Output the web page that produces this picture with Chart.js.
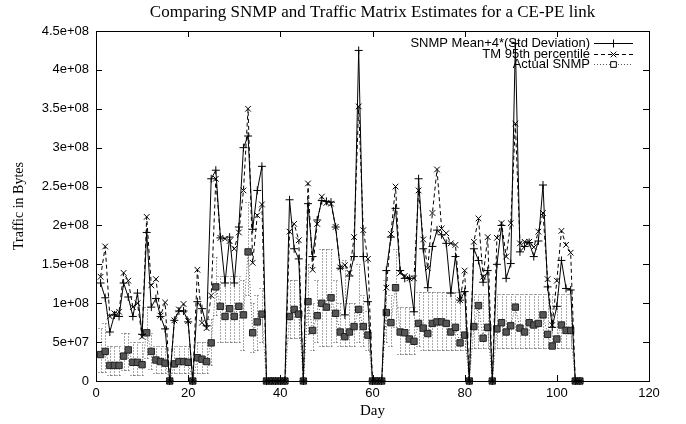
<!DOCTYPE html>
<html><head><meta charset="utf-8">
<script src="https://cdn.jsdelivr.net/npm/chart.js@4.4.1/dist/chart.umd.min.js"></script>
<style>html,body{margin:0;padding:0;background:#fff}#wrap{width:686px;height:424px}</style>
</head><body><div id="wrap"><canvas id="c" width="686" height="424"></canvas></div>
<script>
// Day numbers (x categories)
const days = [1,2,3,4,5,6,7,8,9,10,11,12,13,14,15,16,17,18,19,20,21,22,23,24,25,26,27,28,29,30,
  31,32,33,34,35,36,37,38,39,40,41,42,43,44,45,46,47,48,49,50,51,52,53,54,55,56,57,58,59,60,
  61,62,63,64,65,66,67,68,69,70,71,72,73,74,75,76,77,78,79,80,81,82,83,84,85,86,87,88,89,90,
  91,92,93,94,95,96,97,98,99,100,101,102,103,104,105];
// Values in millions of bytes
const snmpMeanStd = [126,107,63,85,83,126,108,83,113,60,191,95,106,83,67,0,78,90,90,76,
  0,102,93,71,260,271,184,126,185,126,198,300,315,195,245,276,0,0,0,0,
  0,233,170,157,0,228,160,207,232,231,230,198,145,85,135,160,425,160,102,0,
  0,0,142,185,222,142,132,132,89,260,170,120,173,194,188,177,113,160,104,115,
  0,170,155,127,142,0,150,200,132,151,434,166,173,178,160,180,252,121,69,96,
  155,119,117,0,0];
const tm95 = [134,173,83,87,89,139,129,95,100,57,211,123,131,84,101,0,78,92,99,77,
  0,143,75,68,110,260,184,183,180,170,191,245,350,152,213,227,0,0,0,0,
  0,192,202,181,0,254,143,202,237,229,228,198,146,149,139,185,353,194,157,0,
  0,0,120,189,250,139,135,132,132,245,182,145,216,272,196,190,177,175,104,142,
  0,179,209,134,185,0,184,203,160,203,331,177,179,179,172,192,216,131,72,129,
  193,175,165,0,0];
const actualSnmp = [34,38,20,20,20,32,40,24,24,21,62,38,27,25,23,0,22,25,25,24,
  0,30,28,25,49,121,96,83,93,83,96,85,166,62,76,86,0,0,0,0,
  0,83,92,86,0,102,65,84,100,95,107,87,63,57,63,70,92,70,59,0,
  0,0,88,75,120,63,62,54,51,74,68,61,74,76,76,74,63,69,49,59,
  0,70,97,55,69,0,67,75,63,71,95,68,63,75,72,74,85,60,45,54,
  72,65,65,0,0];
const actualLow = [12,12,8,8,8,14,14,8,8,8,30,15,10,10,10,0,10,10,10,10,
  0,10,10,10,20,85,50,50,50,50,50,40,110,37,40,50,0,0,0,0,
  0,55,55,55,0,60,40,50,45,45,45,50,45,45,45,45,50,45,40,0,
  0,0,50,45,70,35,35,35,35,45,40,40,40,40,40,40,40,40,40,40,
  0,42,42,42,42,0,42,42,42,42,42,42,42,42,42,42,42,42,42,42,
  42,42,42,0,0];
const actualHigh = [68,75,45,45,45,62,62,50,50,50,95,62,45,45,45,0,45,45,45,45,
  0,50,50,50,80,160,135,135,135,135,135,130,230,100,110,120,0,0,0,0,
  0,130,130,130,0,150,100,130,170,170,170,130,100,155,100,100,150,110,90,0,
  0,0,130,110,170,95,95,95,95,115,115,115,115,115,115,115,115,115,115,115,
  0,112,112,112,112,0,112,112,112,112,112,112,112,112,112,112,112,112,112,112,
  112,112,112,0,0];
const xTicks = [0,20,40,60,80,100,120];
const yTickLabels = ['0','5e+07','1e+08','1.5e+08','2e+08','2.5e+08','3e+08','3.5e+08','4e+08','4.5e+08'];
const seriesNames = ['SNMP Mean+4*(Std Deviation)','TM 95th percentile','Actual SNMP'];
const titleText = 'Comparing SNMP and Traffic Matrix Estimates for a CE-PE link';

const MB = 1e6;
const pts = arr => days.map((d,i)=>({x:d, y:arr[i]*MB}));

const deco = {
  id:'deco',
  beforeDatasetsDraw(chart){
    const {ctx, scales:{x,y}} = chart;
    ctx.save();
    ctx.strokeStyle='#555'; ctx.lineWidth=1; ctx.setLineDash([1,2]);
    ctx.beginPath();
    for(let i=0;i<days.length;i++){
      if (actualHigh[i]===actualLow[i]) continue;
      const px = Math.round(x.getPixelForValue(days[i]))+0.5;
      const yl = Math.round(y.getPixelForValue(actualLow[i]*MB))+0.5;
      const yh = Math.round(y.getPixelForValue(actualHigh[i]*MB))+0.5;
      ctx.moveTo(px,yl); ctx.lineTo(px,yh);
      ctx.moveTo(px-3,yl); ctx.lineTo(px+3,yl);
      ctx.moveTo(px-3,yh); ctx.lineTo(px+3,yh);
    }
    ctx.stroke();
    ctx.restore();
  },
  afterDraw(chart){
    const {ctx, chartArea:a, scales:{x,y}} = chart;
    ctx.save();
    ctx.strokeStyle='#000'; ctx.lineWidth=1; ctx.setLineDash([]);
    ctx.strokeRect(Math.round(a.left)+0.5, Math.round(a.top)+0.5, Math.round(a.right-a.left), Math.round(a.bottom-a.top));
    ctx.beginPath();
    const L=6;
    y.ticks.forEach(t=>{
      if (t.value<=0 || t.value>=4.5e8) return;
      const py = Math.round(y.getPixelForValue(t.value))+0.5;
      ctx.moveTo(a.left,py); ctx.lineTo(a.left+L,py);
      ctx.moveTo(a.right,py); ctx.lineTo(a.right-L,py);
    });
    x.ticks.forEach(t=>{
      if (t.value<=0 || t.value>=120) return;
      const px = Math.round(x.getPixelForValue(t.value))+0.5;
      ctx.moveTo(px,a.bottom); ctx.lineTo(px,a.bottom-L);
      ctx.moveTo(px,a.top); ctx.lineTo(px,a.top+L);
    });
    ctx.stroke();
    // title
    ctx.fillStyle='#000';
    ctx.font='17px "Liberation Serif"';
    ctx.textAlign='center'; ctx.textBaseline='middle';
    ctx.fillText(titleText,(a.left+a.right)/2,13);
    // legend
    ctx.font='13px "Liberation Sans"';
    ctx.textAlign='right';
    const rows=[43,54,64];
    const tx=590, s0=594, s1=633, sc=(s0+s1)/2;
    chart.data.datasets.forEach((ds,i)=>{
      const yy=rows[i];
      ctx.fillStyle='#000';
      ctx.fillText(seriesNames[i],tx,yy);
      ctx.strokeStyle=ds.borderColor; ctx.lineWidth=1;
      ctx.setLineDash(ds.borderDash||[]);
      ctx.beginPath(); ctx.moveTo(s0,yy+0.5); ctx.lineTo(s1,yy+0.5); ctx.stroke();
      ctx.setLineDash([]);
      ctx.fillStyle = i===2 ? '#fff' : '#000';
      ctx.strokeStyle = '#000';
      Chart.helpers.drawPoint(ctx,{pointStyle:ds.pointStyle,radius:i===2?4:ds.pointRadius,borderWidth:1,rotation:0},sc,yy+0.5);
    });
    ctx.restore();
  }
};

const chart = new Chart(document.getElementById('c'),{
  type:'line',
  data:{datasets:[
    {label:seriesNames[0], data:pts(snmpMeanStd), borderColor:'#000', backgroundColor:'#000', borderWidth:1,
     pointStyle:'cross', pointRadius:4, pointBorderColor:'#000', pointBorderWidth:1, tension:0, clip:false, order:0},
    {label:seriesNames[1], data:pts(tm95), borderColor:'#000', backgroundColor:'#000', borderWidth:1, borderDash:[4,3],
     pointStyle:'crossRot', pointRadius:4, pointBorderColor:'#000', pointBorderWidth:1, tension:0, clip:false, order:1},
    {label:seriesNames[2], data:pts(actualSnmp), borderColor:'#555', backgroundColor:'#555', borderWidth:1, borderDash:[1,2],
     pointStyle:'rect', pointRadius:4.5, pointBackgroundColor:'#555', pointBorderColor:'#222', pointBorderWidth:1, tension:0, clip:false, order:2}
  ]},
  options:{
    responsive:false, animation:false, devicePixelRatio:1,
    layout:{padding:{left:0,right:37,top:31,bottom:0}},
    plugins:{legend:{display:false}, tooltip:{enabled:false}, title:{display:false}},
    scales:{
      x:{type:'linear', min:0, max:120,
        afterBuildTicks:s=>{s.ticks = xTicks.map(v=>({value:v}));},
        afterFit:s=>{s.height=43;},
        grid:{display:false, drawTicks:false}, border:{display:false},
        ticks:{padding:5, color:'#000', font:{family:'"Liberation Sans"', size:13}, maxRotation:0},
        title:{display:true, text:'Day', color:'#000', font:{family:'"Liberation Serif"', size:15}, padding:{top:0,bottom:4}}},
      y:{type:'linear', min:0, max:4.5e8,
        afterBuildTicks:s=>{s.ticks = yTickLabels.map((l,i)=>({value:i*5e7}));},
        afterFit:s=>{s.width=96;},
        grid:{display:false, drawTicks:false}, border:{display:false},
        ticks:{padding:7, color:'#000', font:{family:'"Liberation Sans"', size:13}, callback:(v,i)=>yTickLabels[i]},
        title:{display:true, text:'Traffic in Bytes', color:'#000', font:{family:'"Liberation Serif"', size:14}, padding:{top:11,bottom:0}}}
    }
  },
  plugins:[deco]
});
</script></body></html>
